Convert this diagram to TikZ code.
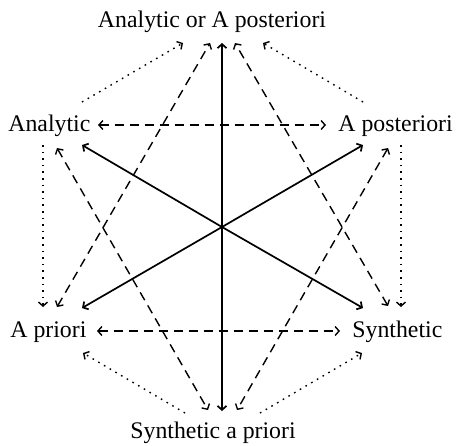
\documentclass[tikz,border=0pt]{standalone}
\usepackage{fontspec}
\setmainfont{Liberation Serif}
\usetikzlibrary{arrows.meta}
\begin{document}
\begin{tikzpicture}[x=0.5pt,y=-0.5pt,
  lbl/.style={inner sep=0pt,font=\fontsize{11.9}{13}\selectfont},
  arr/.style={line width=0.7pt,-{Straight Barb[length=2pt,width=4.5pt]}},
  darr/.style={line width=0.7pt,{Straight Barb[length=2pt,width=4.5pt]}-{Straight Barb[length=2pt,width=4.5pt]}},
  solidline/.style={arr,line width=0.85pt},
  dashline/.style={darr,dash pattern=on 4.5pt off 3pt},
  dotline/.style={arr,dash pattern=on 0.8pt off 2.5pt}]
\useasboundingbox (0,0) rectangle (458,445);
% labels
\node[lbl,anchor=base] (top) at (212,27) {Analytic or A posteriori};
\node[lbl,anchor=base west] (an) at (8,131) {Analytic};
\node[lbl,anchor=base west] (ap) at (338,131) {A posteriori};
\node[lbl,anchor=base west] (pr) at (10,337) {A priori};
\node[lbl,anchor=base west] (sy) at (352,337) {Synthetic};
\node[lbl,anchor=base] (sap) at (213,438) {Synthetic a priori};
% endpoints
\coordinate (c) at (222,227);
\coordinate (sT) at (222,43);
\coordinate (sB) at (222,411);
\coordinate (sUL) at (82,145);
\coordinate (sUR) at (363,145);
\coordinate (sLL) at (82,308);
\coordinate (sLR) at (363,308);
\coordinate (hA1) at (98,125);
\coordinate (hA2) at (326,125);
\coordinate (hB1) at (97,331);
\coordinate (hB2) at (340,331);
\coordinate (d1a) at (57,307);
\coordinate (d1b) at (210,43);
\coordinate (d2a) at (388,306);
\coordinate (d2b) at (235,43);
\coordinate (d3a) at (57,148);
\coordinate (d3b) at (208,410);
\coordinate (d4a) at (388,148);
\coordinate (d4b) at (237,410);
\coordinate (o1a) at (82,102);
\coordinate (o1b) at (183,43);
\coordinate (o2a) at (363,102);
\coordinate (o2b) at (263,43);
\coordinate (o3a) at (43,145);
\coordinate (o3b) at (43,307);
\coordinate (o4a) at (401,145);
\coordinate (o4b) at (401,307);
\coordinate (o5a) at (185,413);
\coordinate (o5b) at (83,353);
\coordinate (o6a) at (260,413);
\coordinate (o6b) at (362,353);
% solid
\foreach \e in {sT,sB,sUL,sUR,sLL,sLR} \draw[solidline] (c) -- (\e);
% dashed
\draw[dashline] (hA1) -- (hA2);
\draw[dashline] (hB1) -- (hB2);
\draw[dashline] (d1a) -- (d1b);
\draw[dashline] (d2a) -- (d2b);
\draw[dashline] (d3a) -- (d3b);
\draw[dashline] (d4a) -- (d4b);
% dotted
\draw[dotline] (o1a) -- (o1b);
\draw[dotline] (o2a) -- (o2b);
\draw[dotline] (o3a) -- (o3b);
\draw[dotline] (o4a) -- (o4b);
\draw[dotline] (o5a) -- (o5b);
\draw[dotline] (o6a) -- (o6b);
\end{tikzpicture}
\end{document}
